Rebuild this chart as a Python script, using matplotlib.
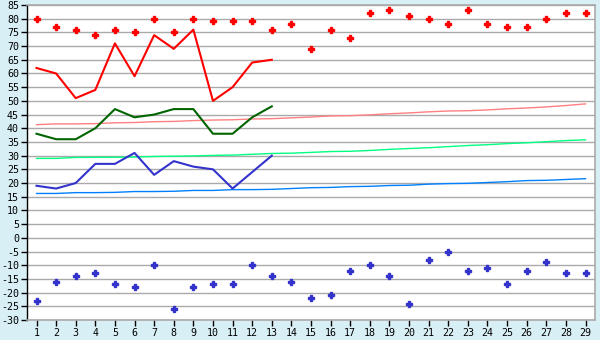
import matplotlib
matplotlib.use("Agg")
import matplotlib.pyplot as plt

days = list(range(1, 30))

record_high = [80, 77, 76, 74, 76, 75, 80, 75, 80, 79, 79, 79, 76, 78, 69,
               76, 73, 82, 83, 81, 80, 78, 83, 78, 77, 77, 80, 82, 82]
record_low = [-23, -16, -14, -13, -17, -18, -10, -26, -18, -17, -17, -10, -14, -16, -22,
              -21, -12, -10, -14, -24, -8, -5, -12, -11, -17, -12, -9, -13, -13]

obs_days = list(range(1, 14))
obs_high = [62, 60, 51, 54, 71, 59, 74, 69, 76, 50, 55, 64, 65]
obs_mean = [38, 36, 36, 40, 47, 44, 45, 47, 47, 38, 38, 44, 48]
obs_low = [19, 18, 20, 27, 27, 31, 23, 28, 26, 25, 18, 24, 30]

normal_high = [41.3, 41.6, 41.6, 41.7, 42.0, 42.1, 42.4, 42.5, 42.8, 43.0, 43.1, 43.4,
               43.5, 43.8, 44.1, 44.5, 44.6, 44.9, 45.3, 45.6, 46.0, 46.3, 46.4, 46.7,
               47.1, 47.4, 47.8, 48.3, 48.9]
normal_mean = [29.0, 29.0, 29.35, 29.4, 29.4, 29.5, 29.7, 29.8, 29.9, 30.1, 30.2, 30.5,
               30.8, 30.9, 31.2, 31.5, 31.6, 31.9, 32.3, 32.6, 32.9, 33.3, 33.7, 34.0,
               34.4, 34.7, 35.1, 35.5, 35.8]
normal_low = [16.2, 16.2, 16.5, 16.5, 16.6, 16.9, 16.9, 17.0, 17.3, 17.3, 17.6, 17.6,
              17.7, 18.0, 18.3, 18.4, 18.7, 18.8, 19.1, 19.2, 19.6, 19.8, 19.9, 20.2,
              20.5, 20.9, 21.0, 21.3, 21.6]

y_ticks = list(range(-30, 90, 5))

fig = plt.figure(figsize=(6, 3.4), dpi=100, facecolor="#d9eff6")
ax = fig.add_axes([0.0445, 0.0588, 0.9477, 0.9265])
ax.set_facecolor("white")

ax.set_xlim(0.5, 29.5)
ax.set_ylim(-30, 85)
ax.set_yticks(y_ticks)
ax.set_xticks(days)
ax.grid(axis="y", color="#aaaaaa", linewidth=1.0)
ax.set_axisbelow(True)

for s in ["top", "right", "bottom"]:
    ax.spines[s].set_color("#aaaaaa")
    ax.spines[s].set_linewidth(1.2)
ax.spines["left"].set_color("black")
ax.spines["left"].set_linewidth(1.0)

ax.tick_params(axis="both", length=4, width=1, color="black", labelsize=7.2,
               labelcolor="black", pad=1.5)
ax.set_yticklabels([str(v) for v in y_ticks])
for lab in ax.get_xticklabels() + ax.get_yticklabels():
    lab.set_family("DejaVu Sans Mono")

ax.plot(days, normal_high, color="#ff8080", lw=1.0, zorder=2)
ax.plot(days, normal_mean, color="#00ff80", lw=1.0, zorder=2)
ax.plot(days, normal_low, color="#0080ff", lw=1.0, zorder=2)

ax.plot(obs_days, obs_high, color="#ff0000", lw=1.5, zorder=3)
ax.plot(obs_days, obs_mean, color="#006400", lw=1.5, zorder=3)
ax.plot(obs_days, obs_low, color="#3333cc", lw=1.5, zorder=3)

ax.plot(days, record_high, linestyle="none", marker="P", markersize=4.2,
        color="#ff0000", zorder=4)
ax.plot(days, record_low, linestyle="none", marker="P", markersize=4.2,
        color="#3333cc", zorder=4)

fig.savefig("out.png", dpi=100, facecolor=fig.get_facecolor())
